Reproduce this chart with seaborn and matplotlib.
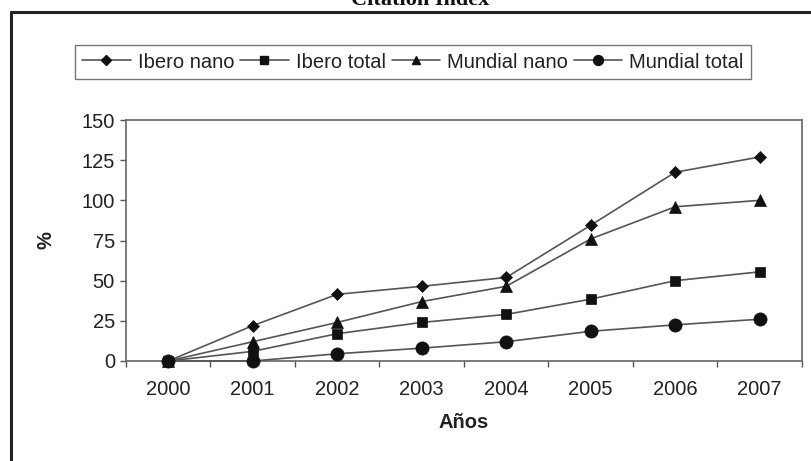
import matplotlib
matplotlib.use("Agg")
import matplotlib.pyplot as plt
from matplotlib.lines import Line2D
import seaborn as sns
import pandas as pd

# Citation index growth (%) per year
years = [2000, 2001, 2002, 2003, 2004, 2005, 2006, 2007]
ibero_nano = [0, 22, 41.5, 46.5, 52, 84.5, 117.5, 127]
ibero_total = [0, 6, 17, 24, 29, 38.5, 50, 55.5]
mundial_nano = [0, 12, 24, 37, 46.5, 76, 96, 100]
mundial_total = [0, 0, 4.5, 8, 12, 18.5, 22.5, 26]
series_names = ["Ibero nano", "Ibero total", "Mundial nano", "Mundial total"]
y_ticks = [0, 25, 50, 75, 100, 125, 150]

series_values = [ibero_nano, ibero_total, mundial_nano, mundial_total]
df = pd.concat(
    [pd.DataFrame({"pos": range(len(years)), "year": years, "value": vals, "serie": name})
     for name, vals in zip(series_names, series_values)],
    ignore_index=True,
)

sns.set_theme(style="white")
plt.rcParams["font.family"] = ["Liberation Sans", "DejaVu Sans"]

W, H = 812, 461
fig = plt.figure(figsize=(W / 100, H / 100), dpi=100)
ax = fig.add_axes([126 / W, 1 - 361 / H, 676 / W, 241 / H])

markers = {"Ibero nano": "D", "Ibero total": "s", "Mundial nano": "^", "Mundial total": "o"}
sizes = {"Ibero nano": 6.5, "Ibero total": 6.8, "Mundial nano": 8.5, "Mundial total": 9.5}
for name in series_names:
    sub = df[df["serie"] == name]
    sns.lineplot(data=sub, x="pos", y="value", ax=ax, color="#555555", linewidth=1.2,
                 marker=markers[name], markersize=sizes[name], markerfacecolor="#111111",
                 markeredgecolor="#111111", markeredgewidth=0.5, label=name,
                 legend=False, zorder=3, clip_on=False)

ax.set_xlim(-0.5, len(years) - 0.5)
ax.set_ylim(0, 150)
ax.set_yticks(y_ticks)
ax.set_xticks([i - 0.5 for i in range(len(years) + 1)])
ax.set_xticklabels([])
ax.set_xticks(range(len(years)), minor=True)
ax.set_xticklabels([str(y) for y in years], minor=True)
ax.tick_params(axis="x", which="major", direction="out", length=4, width=1, color="#555555",
               bottom=True)
ax.tick_params(axis="x", which="minor", length=0, pad=14, labelsize=14.5, labelcolor="#222222")
ax.tick_params(axis="y", direction="out", length=4, width=1, color="#555555", left=True,
               labelsize=14.5, labelcolor="#222222", pad=4)
for sp in ax.spines.values():
    sp.set_color("#666666")
    sp.set_linewidth(1.2)
ax.set_facecolor("white")

ax.set_xlabel("Años", fontsize=14.5, fontweight="bold", color="#222222", labelpad=10)
ax.set_ylabel("%", fontsize=14.5, fontweight="bold", color="#222222", labelpad=19)

handles = [Line2D([], [], color="#555555", linewidth=1.2, marker=markers[n],
                  markersize=sizes[n] * 0.75, markerfacecolor="#111111", markeredgecolor="#111111")
           for n in series_names]
leg = fig.legend(handles, series_names, ncol=4, loc="center",
                 bbox_to_anchor=((58 + 768) / 2 / W, 1 - 62 / H),
                 frameon=True, fancybox=False, fontsize=14.5, handlelength=2.4,
                 handletextpad=0.35, columnspacing=0.3, borderpad=0.35, borderaxespad=0)
leg.get_frame().set_edgecolor("#555555")
leg.get_frame().set_linewidth(1.0)
for t in leg.get_texts():
    t.set_color("#222222")

# Outer chart frame
fig.add_artist(Line2D([11 / W, 1.0], [1 - 12 / H, 1 - 12 / H], transform=fig.transFigure,
                      color="#222222", linewidth=2.2))
fig.add_artist(Line2D([11 / W, 11 / W], [1 - 12 / H, 0.0], transform=fig.transFigure,
                      color="#222222", linewidth=2.2))

fig.text(420 / W, 1 - 5 / H, "Citation Index", ha="center", va="baseline",
         fontsize=16, fontweight="bold", family=["Liberation Serif", "DejaVu Serif"],
         color="#111111")

fig.savefig("out.png", dpi=100, facecolor="white")
